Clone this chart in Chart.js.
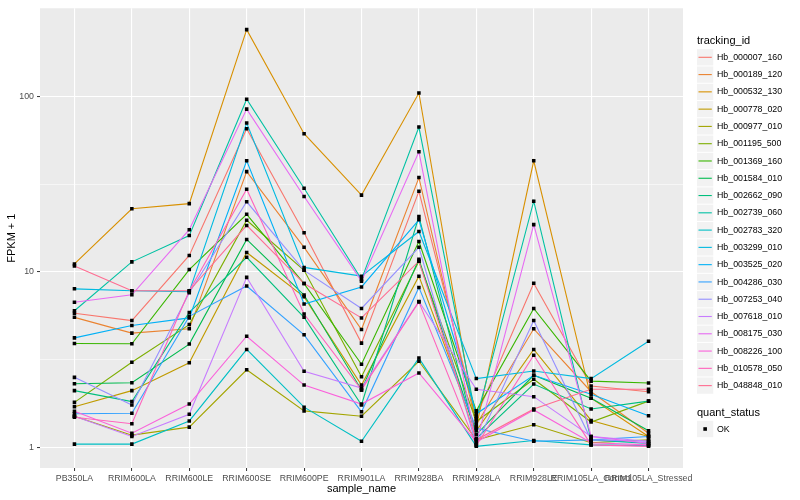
<!DOCTYPE html>
<html><head><meta charset="utf-8">
<script src="https://cdn.jsdelivr.net/npm/chart.js@4"></script>
<style>
html,body{margin:0;padding:0;background:#fff;}
#wrap{position:relative;width:800px;height:500px;overflow:hidden;}
#c{position:absolute;left:0;top:0;}
.lg{position:absolute;font-family:"Liberation Sans",Arial,Helvetica,sans-serif;color:#000;white-space:nowrap;line-height:1;}
</style></head><body>
<div id="wrap"><canvas id="c" width="800" height="500"></canvas><div id="legend"></div></div>
<script>
// ---- data ----
const categories = ["PB350LA","RRIM600LA","RRIM600LE","RRIM600SE","RRIM600PE","RRIM901LA","RRIM928BA","RRIM928LA","RRIM928LE","RRIM105LA_Control","RRIM105LA_Stressed"];
const trackingIds = ["Hb_000007_160","Hb_000189_120","Hb_000532_130","Hb_000778_020","Hb_000977_010","Hb_001195_500","Hb_001369_160","Hb_001584_010","Hb_002662_090","Hb_002739_060","Hb_002783_320","Hb_003299_010","Hb_003525_020","Hb_004286_030","Hb_007253_040","Hb_007618_010","Hb_008175_030","Hb_008226_100","Hb_010578_050","Hb_048848_010"];
const seriesColors = ["#F8766D","#EA8331","#D89000","#C09B00","#A3A500","#7CAE00","#39B600","#00BB4E","#00BF7D","#00C1A3","#00BFC4","#00BAE0","#00B0F6","#35A2FF","#9590FF","#C77CFF","#E76BF3","#FA62DB","#FF62BC","#FF6C91"];
const Hb_000007_160 = [5.8, 5.27, 12.4, 65.6, 16.7, 3.92, 28.8, 1.5, 8.6, 2.23, 2.07];
const Hb_000189_120 = [5.5, 4.47, 4.73, 37.3, 13.8, 4.69, 34.5, 1.34, 4.73, 2.07, 1.2];
const Hb_000532_130 = [11.1, 22.9, 24.5, 241, 61.4, 27.4, 104.8, 1.3, 43, 1.9, 1.15];
const Hb_000778_020 = [1.7, 2.10, 3.03, 12.9, 7.2, 2.26, 9.45, 1.24, 3.61, 1.42, 1.15];
const Hb_000977_010 = [1.5, 1.17, 1.30, 2.76, 1.61, 1.50, 3.09, 1.1, 1.34, 1.06, 1.1];
const Hb_001195_500 = [1.8, 3.05, 5.0, 19.7, 10.2, 2.52, 11.5, 1.4, 2.44, 1.39, 1.83];
const Hb_001369_160 = [3.9, 3.89, 10.3, 21.3, 8.57, 2.97, 14.9, 1.61, 6.18, 2.38, 2.32];
const Hb_001584_010 = [2.3, 2.33, 3.87, 15.3, 7.37, 2.12, 11.8, 1.18, 2.57, 1.90, 1.24];
const Hb_002662_090 = [2.1, 1.82, 5.87, 12.1, 5.5, 1.74, 20.7, 1.12, 2.29, 1.65, 1.83];
const Hb_002739_060 = [6.0, 11.4, 16.1, 96.6, 30.0, 9.06, 67, 1.45, 25.3, 1.1, 1.05];
const Hb_002783_320 = [1.04, 1.04, 1.41, 3.61, 1.69, 1.08, 3.22, 1.01, 1.09, 1.03, 1.02];
const Hb_003299_010 = [8.0, 7.8, 7.7, 70.7, 10.6, 9.45, 17.0, 2.46, 2.72, 2.46, 4.02];
const Hb_003525_020 = [4.2, 4.94, 5.46, 43, 6.55, 8.2, 19.8, 1.55, 2.57, 2.0, 1.51];
const Hb_004286_030 = [1.55, 1.56, 5.57, 8.3, 4.37, 1.59, 8.15, 1.28, 1.08, 1.10, 1.15];
const Hb_007253_040 = [2.5, 1.74, 7.6, 25.1, 10.2, 6.18, 13.8, 1.03, 5.27, 1.10, 1.08];
const Hb_007618_010 = [1.5, 1.15, 1.54, 9.3, 2.71, 2.17, 6.77, 2.14, 1.94, 1.15, 1.08];
const Hb_008175_030 = [6.7, 7.4, 17.4, 84.8, 26.9, 8.85, 48.4, 1.05, 18.6, 1.15, 1.05];
const Hb_008226_100 = [1.6, 1.2, 1.76, 4.29, 2.26, 1.76, 2.65, 1.07, 1.63, 1.06, 1.03];
const Hb_010578_050 = [1.48, 1.36, 7.8, 29.6, 5.75, 2.12, 6.74, 1.02, 3.34, 1.03, 1.01];
const Hb_048848_010 = [10.8, 7.8, 7.8, 18.4, 8.57, 5.46, 11.5, 1.10, 1.65, 2.14, 2.14];
const seriesValues = [Hb_000007_160,Hb_000189_120,Hb_000532_130,Hb_000778_020,Hb_000977_010,Hb_001195_500,Hb_001369_160,Hb_001584_010,Hb_002662_090,Hb_002739_060,Hb_002783_320,Hb_003299_010,Hb_003525_020,Hb_004286_030,Hb_007253_040,Hb_007618_010,Hb_008175_030,Hb_008226_100,Hb_010578_050,Hb_048848_010];
const yMajorTicks = [1, 10, 100];
const yMinorTicks = [3.1623, 31.623];
const quantStatus = ["OK"];

// ---- chart ----
const FONT = '"Liberation Sans", Arial, Helvetica, sans-serif';
const KEY_X = 697, KEY_SIZE = 17.28, FIRST_KEY_CY = 57.3, LABEL_X = 717, OK_CY = 429;

const datasets = seriesValues.map((vals, k) => ({
  type: 'line',
  label: trackingIds[k],
  data: vals.map((v, i) => ({x: i, y: v})),
  borderColor: seriesColors[k],
  backgroundColor: seriesColors[k],
  borderWidth: 1.1,
  pointRadius: 0,
  tension: 0,
  fill: false,
  order: seriesValues.length - k
}));
datasets.push({
  type: 'scatter',
  label: 'quant_status: OK',
  data: seriesValues.flatMap(vals => vals.map((v, i) => ({x: i, y: v}))),
  pointStyle: 'rect',
  pointRadius: 2.5,
  pointBorderWidth: 0,
  backgroundColor: '#000',
  borderColor: '#000',
  showLine: false,
  order: -1
});

const panelBg = {
  id: 'panelBg',
  beforeDraw(chart) {
    const {ctx, chartArea: a} = chart;
    ctx.save();
    ctx.fillStyle = '#EBEBEB';
    ctx.fillRect(a.left, a.top, a.right - a.left, a.bottom - a.top);
    ctx.restore();
  }
};

// legend key glyphs (boxes, line samples, point sample) drawn on the canvas
const legendKeys = {
  id: 'legendKeys',
  afterDraw(chart) {
    const ctx = chart.ctx;
    ctx.save();
    const box = cy => {
      ctx.fillStyle = '#F2F2F2';
      ctx.fillRect(KEY_X, cy - KEY_SIZE / 2 + 0.5, KEY_SIZE - 1, KEY_SIZE - 1);
    };
    trackingIds.forEach((id, k) => {
      const cy = FIRST_KEY_CY + k * KEY_SIZE;
      box(cy);
      ctx.strokeStyle = seriesColors[k];
      ctx.lineWidth = 1.1;
      ctx.beginPath();
      ctx.moveTo(KEY_X + 1.5, cy);
      ctx.lineTo(KEY_X + KEY_SIZE - 2.5, cy);
      ctx.stroke();
    });
    quantStatus.forEach((q, k) => {
      const cy = OK_CY + k * KEY_SIZE;
      box(cy);
      ctx.fillStyle = '#000';
      ctx.fillRect(KEY_X + KEY_SIZE / 2 - 2.3, cy - 1.8, 3.6, 3.6);
    });
    ctx.restore();
  }
};

const isMajor = v => yMajorTicks.some(t => Math.abs(t - v) < 1e-6);

new Chart(document.getElementById('c'), {
  data: {datasets},
  options: {
    responsive: false,
    animation: false,
    devicePixelRatio: 1,
    layout: {padding: {top: 5, right: 117, bottom: 0, left: 0}},
    plugins: {legend: {display: false}, tooltip: {enabled: false}},
    scales: {
      x: {
        type: 'linear', min: -0.6, max: 10.6,
        afterBuildTicks: s => { s.ticks = categories.map((c, i) => ({value: i})); },
        afterFit: s => { s.height = 32; },
        ticks: {autoSkip: false, maxRotation: 0, minRotation: 0, padding: 2, color: '#4D4D4D',
          font: {family: FONT, size: 8.8},
          callback: v => categories[v]},
        grid: {color: '#FFFFFF', lineWidth: 1.1, tickLength: 3, tickColor: '#333333', tickWidth: 1},
        border: {display: false},
        title: {display: true, text: 'sample_name', color: '#000', font: {family: FONT, size: 11}, padding: {top: 0, bottom: 4.4}}
      },
      y: {
        type: 'logarithmic', min: 0.76, max: 319,
        afterBuildTicks: s => { s.ticks = yMajorTicks.concat(yMinorTicks).sort((a,b)=>a-b).map(v => ({value: v, major: isMajor(v)})); },
        afterFit: s => { s.width = 40; },
        ticks: {autoSkip: false, padding: 3, color: '#4D4D4D', font: {family: FONT, size: 8.8},
          callback: v => isMajor(v) ? String(Math.round(v)) : ''},
        grid: {
          color: '#FFFFFF',
          lineWidth: c => (c.tick && isMajor(c.tick.value)) ? 1.1 : 0.55,
          tickLength: 3,
          tickColor: c => (c.tick && isMajor(c.tick.value)) ? '#333333' : 'rgba(0,0,0,0)',
          tickWidth: 1
        },
        border: {display: false},
        title: {display: true, text: 'FPKM + 1', color: '#000', font: {family: FONT, size: 11}, padding: {top: 5.4, bottom: 0}}
      }
    }
  },
  plugins: [panelBg, legendKeys]
});

// ---- legend text (HTML) ----
const lg = document.getElementById('legend');
function addText(txt, left, cy, size) {
  const d = document.createElement('div');
  d.className = 'lg';
  d.textContent = txt;
  d.style.left = left + 'px';
  d.style.fontSize = size + 'px';
  d.style.top = Math.round(cy - size * 0.5) + 'px';
  lg.appendChild(d);
}
addText('tracking_id', KEY_X, 40.5, 11);
trackingIds.forEach((id, k) => addText(id, LABEL_X, FIRST_KEY_CY + k * KEY_SIZE, 8.8));
addText('quant_status', KEY_X, 412, 11);
quantStatus.forEach((q, k) => addText(q, LABEL_X, OK_CY + k * KEY_SIZE, 8.8));
</script>
</body></html>
